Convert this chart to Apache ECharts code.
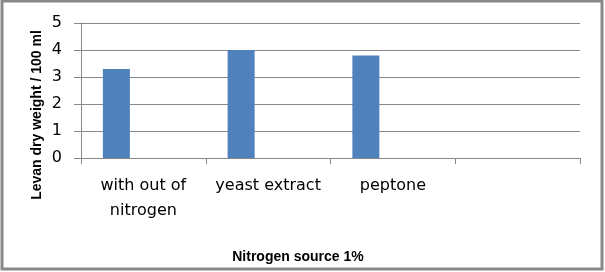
<!DOCTYPE html>
<html>
<head>
<meta charset="utf-8">
<script src="https://cdn.jsdelivr.net/npm/echarts@6/dist/echarts.min.js"></script>
<style>
  html, body { margin: 0; padding: 0; background: #fff; }
  #chart { width: 605px; height: 272px; }
</style>
</head>
<body>
<div id="chart"></div>
<script>
// nitrogen sources on the x axis (last slot is empty in the original)
var sources = ['with out of\nnitrogen', 'yeast extract', 'peptone', ''];
// levan dry weight per 100 ml
var levanWeight = [3.3, 4.0, 3.8, null];
// the two other excel series are empty, they only take up room in each cluster
var emptySeries = [null, null, null, null];
var yTicks = { min: 0, max: 5, interval: 1 };

var chart = echarts.init(document.getElementById('chart'));

var option = {
    animation: false,
    backgroundColor: '#fff',
    grid: { left: 81, right: 25, top: 23, bottom: 114 },
    graphic: [
        {   // frame round the whole chart
            type: 'rect',
            shape: { x: 2, y: 1, width: 600, height: 268 },
            style: { fill: 'none', stroke: '#888', lineWidth: 3 },
            z: 10
        },
        {
            type: 'text',
            x: 37, y: 115,
            rotation: Math.PI / 2,
            style: {
                text: 'Levan dry weight / 100 ml',
                font: 'bold 14px "Liberation Sans", Arial, sans-serif',
                fill: '#000',
                align: 'center',
                verticalAlign: 'middle'
            }
        },
        {
            type: 'text',
            x: 298, y: 257,
            style: {
                text: 'Nitrogen source 1%',
                font: 'bold 14px "Liberation Sans", Arial, sans-serif',
                fill: '#000',
                align: 'center',
                verticalAlign: 'middle'
            }
        }
    ],
    xAxis: {
        type: 'category',
        data: sources,
        axisLine: { lineStyle: { color: '#888', width: 1 } },
        axisTick: { show: true, length: 6, lineStyle: { color: '#888' } },
        axisLabel: {
            interval: 0,
            margin: 15,
            color: '#000',
            fontFamily: '"DejaVu Sans", sans-serif',
            fontSize: 16,
            lineHeight: 25
        },
        splitLine: { show: false }
    },
    yAxis: {
        type: 'value',
        min: yTicks.min,
        max: yTicks.max,
        interval: yTicks.interval,
        axisLine: { show: true, lineStyle: { color: '#888', width: 1 } },
        axisTick: { show: true, length: 7, lineStyle: { color: '#888' } },
        axisLabel: {
            margin: 19,
            color: '#000',
            fontFamily: '"DejaVu Sans", sans-serif',
            fontSize: 16
        },
        splitLine: { show: true, lineStyle: { color: '#888', width: 1 } }
    },
    series: [
        {
            name: 'levan',
            type: 'bar',
            data: levanWeight,
            barWidth: 27,
            barGap: '0%',
            itemStyle: { color: '#4F81BD' }
        },
        { name: 's2', type: 'bar', data: emptySeries, barWidth: 27, barGap: '0%' },
        { name: 's3', type: 'bar', data: emptySeries, barWidth: 27, barGap: '0%' }
    ]
};

chart.setOption(option);
</script>
</body>
</html>
